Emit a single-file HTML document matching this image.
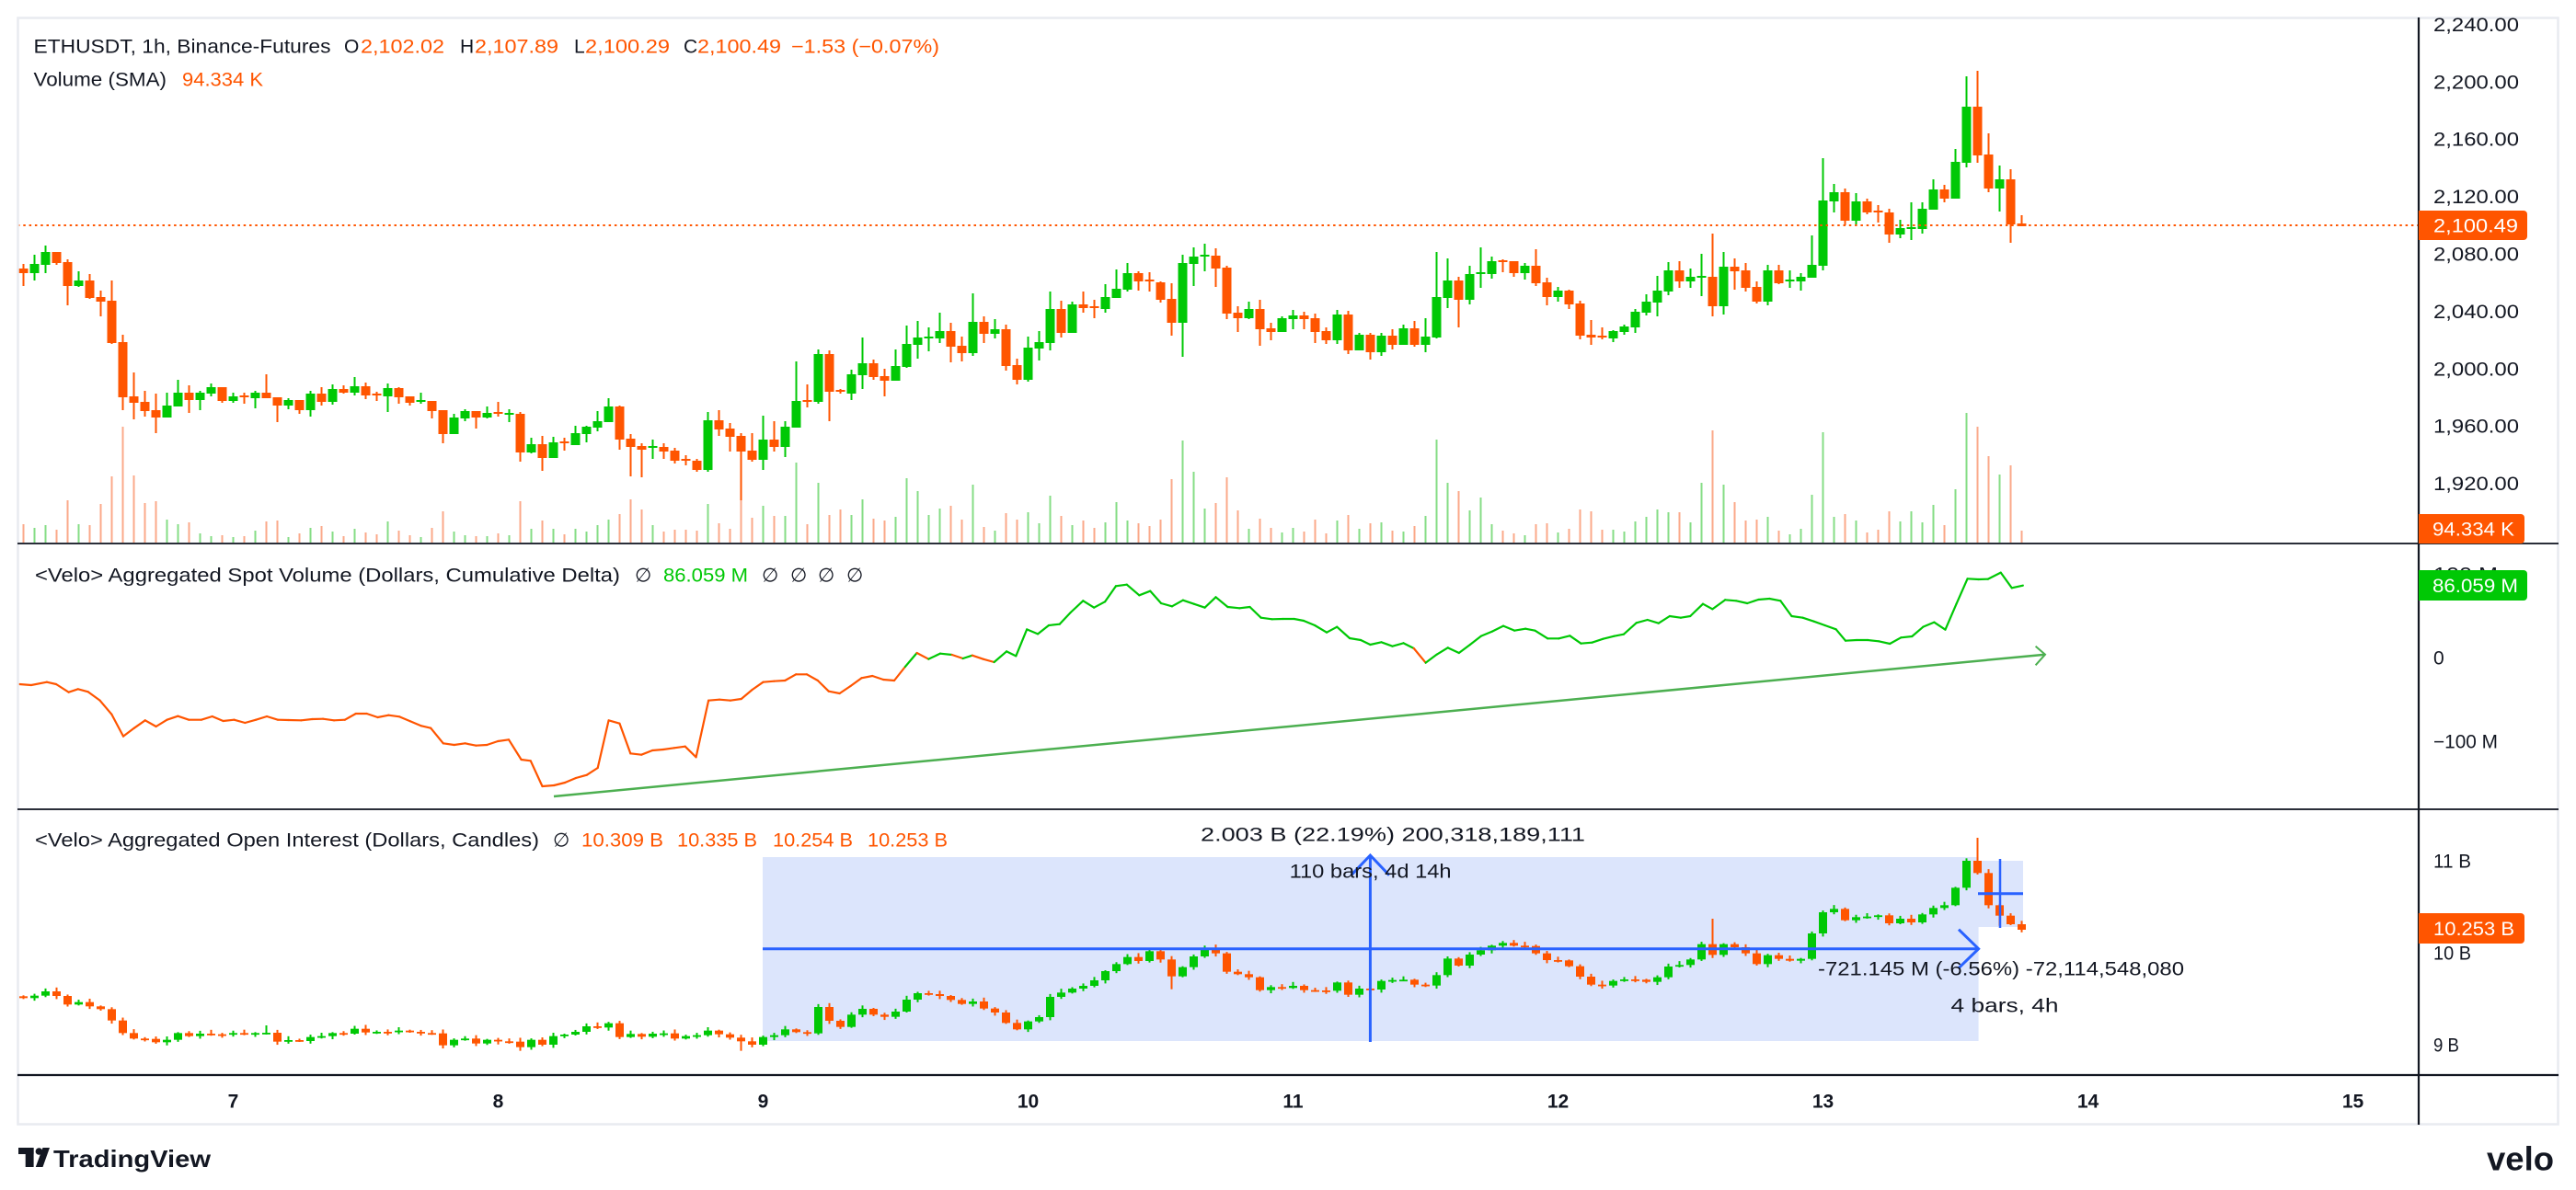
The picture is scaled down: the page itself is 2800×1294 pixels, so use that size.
<!DOCTYPE html>
<html>
<head>
<meta charset="utf-8">
<style>
html,body{margin:0;padding:0;background:#fff;width:2800px;height:1294px;overflow:hidden}
svg{display:block}
text{font-family:"Liberation Sans",sans-serif;fill:#131722}
.ax{font-size:21px}
.lg{font-size:21px}
.or{fill:#ff5500}
.gr{fill:#00c805}
.wt{fill:#ffffff}
.day{font-size:21px;font-weight:bold;text-anchor:middle}
</style>
</head>
<body>
<svg id="c" width="2800" height="1294" viewBox="0 0 2800 1294" xmlns="http://www.w3.org/2000/svg">
<rect x="0" y="0" width="2800" height="1294" fill="#ffffff"/>

<!-- measurement fills (pane 3) -->
<rect x="829" y="932" width="1321.6" height="200" fill="#dce5fc"/>
<rect x="2150" y="936" width="49" height="72" fill="#dce5fc"/>

<g id="ser"></g>

<!-- last price dotted line -->
<line x1="19" y1="245" x2="2629" y2="245" stroke="#ff5500" stroke-width="2" stroke-dasharray="2.5 3.8"/>

<!-- trend line pane 2 -->
<line x1="602" y1="866" x2="2223" y2="711.7" stroke="#4caf50" stroke-width="2.5"/>
<polyline points="2212.6,702.7 2223,711.7 2212.6,723.3" fill="none" stroke="#4caf50" stroke-width="2"/>

<!-- measurement lines -->
<line x1="829" y1="1031.7" x2="2150" y2="1031.7" stroke="#2962ff" stroke-width="3"/>
<polyline points="2129,1010.7 2150.6,1031.7 2129,1052.7" fill="none" stroke="#2962ff" stroke-width="3"/>
<line x1="1489.4" y1="931" x2="1489.4" y2="1133" stroke="#2962ff" stroke-width="3"/>
<polyline points="1468.7,951.7 1489.4,930 1510,951.7" fill="none" stroke="#2962ff" stroke-width="3"/>
<line x1="2174" y1="934" x2="2174" y2="1009" stroke="#2962ff" stroke-width="2.5"/>
<line x1="2150" y1="971.7" x2="2199" y2="971.7" stroke="#2962ff" stroke-width="3"/>

<text class="lg" x="1305" y="914.5" textLength="418" lengthAdjust="spacingAndGlyphs">2.003 B (22.19%) 200,318,189,111</text>
<text class="lg" x="1401.6" y="954.5" textLength="176" lengthAdjust="spacingAndGlyphs">110 bars, 4d 14h</text>
<text class="lg" x="1976" y="1060.5" textLength="398" lengthAdjust="spacingAndGlyphs">-721.145 M (-6.56%) -72,114,548,080</text>
<text class="lg" x="2120.5" y="1100.5" textLength="117" lengthAdjust="spacingAndGlyphs">4 bars, 4h</text>

<!-- frame & separators -->
<rect x="19.5" y="19.5" width="2761" height="1203" fill="none" stroke="#e9ebf0" stroke-width="2.5"/>
<line x1="19" y1="591" x2="2781" y2="591" stroke="#2a2e39" stroke-width="2"/>
<line x1="19" y1="880" x2="2781" y2="880" stroke="#2a2e39" stroke-width="2"/>
<line x1="19" y1="1169" x2="2781" y2="1169" stroke="#131722" stroke-width="2.2"/>
<line x1="2629" y1="19" x2="2629" y2="1223" stroke="#131722" stroke-width="2.2"/>

<!-- legends -->
<text class="lg" x="36.5" y="57.5" textLength="323" lengthAdjust="spacingAndGlyphs">ETHUSDT, 1h, Binance-Futures</text>
<text class="lg" x="374" y="57.5">O</text>
<text class="lg or" x="392" y="57.5" textLength="91" lengthAdjust="spacingAndGlyphs">2,102.02</text>
<text class="lg" x="500" y="57.5">H</text>
<text class="lg or" x="516" y="57.5" textLength="91" lengthAdjust="spacingAndGlyphs">2,107.89</text>
<text class="lg" x="624" y="57.5">L</text>
<text class="lg or" x="636" y="57.5" textLength="92" lengthAdjust="spacingAndGlyphs">2,100.29</text>
<text class="lg" x="743" y="57.5">C</text>
<text class="lg or" x="758" y="57.5" textLength="91" lengthAdjust="spacingAndGlyphs">2,100.49</text>
<text class="lg or" x="860" y="57.5" textLength="161" lengthAdjust="spacingAndGlyphs">−1.53 (−0.07%)</text>
<text class="lg" x="36.5" y="93.5" textLength="144.5" lengthAdjust="spacingAndGlyphs">Volume (SMA)</text>
<text class="lg or" x="198" y="93.5" textLength="88" lengthAdjust="spacingAndGlyphs">94.334 K</text>

<text class="lg" x="38" y="632.5" textLength="636" lengthAdjust="spacingAndGlyphs">&lt;Velo&gt; Aggregated Spot Volume (Dollars, Cumulative Delta)</text>
<text class="lg" x="690" y="632.5">∅</text>
<text class="lg gr" x="721" y="632.5" textLength="92" lengthAdjust="spacingAndGlyphs">86.059 M</text>
<text class="lg" x="828" y="632.5">∅</text>
<text class="lg" x="859" y="632.5">∅</text>
<text class="lg" x="889" y="632.5">∅</text>
<text class="lg" x="920" y="632.5">∅</text>

<text class="lg" x="38" y="920.5" textLength="548" lengthAdjust="spacingAndGlyphs">&lt;Velo&gt; Aggregated Open Interest (Dollars, Candles)</text>
<text class="lg" x="601" y="920.5">∅</text>
<text class="lg or" x="632" y="920.5" textLength="89" lengthAdjust="spacingAndGlyphs">10.309 B</text>
<text class="lg or" x="736" y="920.5" textLength="87" lengthAdjust="spacingAndGlyphs">10.335 B</text>
<text class="lg or" x="840" y="920.5" textLength="87" lengthAdjust="spacingAndGlyphs">10.254 B</text>
<text class="lg or" x="943" y="920.5" textLength="87" lengthAdjust="spacingAndGlyphs">10.253 B</text>

<!-- price axis -->
<text class="ax" x="2645" y="34" textLength="93" lengthAdjust="spacingAndGlyphs">2,240.00</text>
<text class="ax" x="2645" y="96.4" textLength="93" lengthAdjust="spacingAndGlyphs">2,200.00</text>
<text class="ax" x="2645" y="158.7" textLength="93" lengthAdjust="spacingAndGlyphs">2,160.00</text>
<text class="ax" x="2645" y="221.1" textLength="93" lengthAdjust="spacingAndGlyphs">2,120.00</text>
<text class="ax" x="2645" y="283.5" textLength="93" lengthAdjust="spacingAndGlyphs">2,080.00</text>
<text class="ax" x="2645" y="345.9" textLength="93" lengthAdjust="spacingAndGlyphs">2,040.00</text>
<text class="ax" x="2645" y="408.3" textLength="93" lengthAdjust="spacingAndGlyphs">2,000.00</text>
<text class="ax" x="2645" y="470.6" textLength="93" lengthAdjust="spacingAndGlyphs">1,960.00</text>
<text class="ax" x="2645" y="533" textLength="93" lengthAdjust="spacingAndGlyphs">1,920.00</text>

<path d="M2629,229 H2743 a4,4 0 0 1 4,4 V257 a4,4 0 0 1 -4,4 H2629 Z" fill="#ff5500"/>
<text class="ax wt" x="2645" y="252.5" textLength="92" lengthAdjust="spacingAndGlyphs">2,100.49</text>
<path d="M2629,559 H2740 a4,4 0 0 1 4,4 V587 a4,4 0 0 1 -4,4 H2629 Z" fill="#ff5500"/>
<text class="ax wt" x="2644" y="582.5" textLength="89" lengthAdjust="spacingAndGlyphs">94.334 K</text>

<!-- pane 2 axis -->
<text class="ax" x="2645" y="631.5" textLength="70" lengthAdjust="spacingAndGlyphs">100 M</text>
<path d="M2629,620 H2743 a4,4 0 0 1 4,4 V649 a4,4 0 0 1 -4,4 H2629 Z" fill="#00c805"/>
<text class="ax wt" x="2644" y="644" textLength="93" lengthAdjust="spacingAndGlyphs">86.059 M</text>
<text class="ax" x="2645" y="722.5">0</text>
<text class="ax" x="2645" y="813.5" textLength="70" lengthAdjust="spacingAndGlyphs">−100 M</text>

<!-- pane 3 axis -->
<text class="ax" x="2645" y="943.5" textLength="41" lengthAdjust="spacingAndGlyphs">11 B</text>
<text class="ax" x="2645" y="1043.5" textLength="41" lengthAdjust="spacingAndGlyphs">10 B</text>
<text class="ax" x="2645" y="1143.5" textLength="28" lengthAdjust="spacingAndGlyphs">9 B</text>
<path d="M2629,993 H2740 a4,4 0 0 1 4,4 V1022 a4,4 0 0 1 -4,4 H2629 Z" fill="#ff5500"/>
<text class="ax wt" x="2645" y="1017" textLength="88" lengthAdjust="spacingAndGlyphs">10.253 B</text>

<!-- time axis -->
<text class="day" x="253.5" y="1204.5">7</text>
<text class="day" x="541.5" y="1204.5">8</text>
<text class="day" x="829.5" y="1204.5">9</text>
<text class="day" x="1117.5" y="1204.5">10</text>
<text class="day" x="1405.5" y="1204.5">11</text>
<text class="day" x="1693.5" y="1204.5">12</text>
<text class="day" x="1981.5" y="1204.5">13</text>
<text class="day" x="2269.5" y="1204.5">14</text>
<text class="day" x="2557.5" y="1204.5">15</text>

<!-- TradingView logo -->
<rect x="20" y="1248" width="16.6" height="7" fill="#131722"/>
<rect x="27.7" y="1248" width="8.9" height="21" fill="#131722"/>
<circle cx="42.4" cy="1252" r="3.8" fill="#131722"/>
<polygon points="46.5,1248 54,1248 46.5,1269 38.8,1269" fill="#131722"/>
<text x="58" y="1269" style="font-size:26px;font-weight:bold" textLength="171" lengthAdjust="spacingAndGlyphs">TradingView</text>
<!-- velo logo -->
<text x="2703" y="1272.5" style="font-size:36px;font-weight:bold" textLength="73" lengthAdjust="spacingAndGlyphs">velo</text>
</svg>

<script>
(function(){
var NS="http://www.w3.org/2000/svg";
var G="#00c805",R="#ff5500",GV="#86dd86",RV="#fba98a";
var s=document.getElementById("ser");
function el(tag,a){var e=document.createElementNS(NS,tag);for(var k in a)e.setAttribute(k,a[k]);s.appendChild(e);return e;}
var P=[[292,297,287,311],[297,287,277,305],[288,274,267,297],[274,286,274,288],[285,311,282,332],[311,305,295,312],[305,324,298,325],[323,328,316,344],[327,373,305,374],[372,432,364,446],
[431,438,405,456],[437,447,425,453],[446,454,428,471],[454,441,427,454],[442,427,413,442],[427,435,419,449],[435,427,425,446],[428,421,417,431],[421,436,421,438],[436,431,427,438],
[430,432,427,439],[433,427,425,444],[427,433,407,433],[432,441,432,459],[441,435,433,445],[435,446,435,450],[446,428,425,453],[428,437,421,441],[437,423,418,440],[423,427,419,428],
[427,420,410,430],[420,430,416,434],[428,430,426,436],[431,422,417,448],[422,432,421,439],[431,438,431,441],[437,435,427,439],[436,447,436,455],[446,472,446,482],[472,454,450,472],
[455,447,445,458],[447,454,447,466],[454,449,442,455],[448,450,437,453],[451,449,445,459],[450,492,448,502],[492,483,476,493],[483,498,474,512],[498,481,475,498],[480,482,476,490],
[484,471,463,484],[472,464,463,481],[465,458,447,469],[459,442,433,459],[442,478,441,489],[477,486,472,518],[485,489,482,519],[487,485,478,499],[486,491,482,499],[490,501,487,504],
[499,501,495,506],[501,511,499,513],[511,457,448,513],[457,467,446,474],[466,475,460,491],[474,491,471,544],[490,500,471,502],[500,478,452,511],[478,486,458,491],[486,464,458,497],
[465,436,393,465],[435,437,418,443],[437,385,380,439],[385,426,381,458],[424,426,423,428],[428,407,402,435],[408,395,367,423],[395,410,391,413],[409,414,401,431],[414,398,380,414],
[399,374,354,400],[375,367,349,390],[368,366,356,382],[368,360,340,373],[360,377,351,394],[376,384,366,393],[384,350,319,387],[350,363,344,373],[363,358,347,368],[358,398,353,403],
[397,413,390,418],[413,378,366,415],[379,372,360,392],[373,336,317,381],[336,362,327,367],[362,331,328,362],[331,335,317,340],[333,335,326,346],[336,323,309,340],[324,314,293,324],
[315,297,286,317],[297,306,295,316],[304,306,296,317],[307,326,306,329],[325,351,308,365],[351,286,277,388],[287,279,269,311],[279,277,265,295],[278,292,270,312],[291,341,289,347],
[340,346,333,361],[346,336,328,347],[336,358,326,376],[357,361,351,370],[361,346,344,361],[347,343,337,358],[343,347,339,358],[346,361,341,373],[360,370,356,374],[370,342,337,374],
[342,381,338,385],[381,364,362,381],[364,383,362,391],[383,365,362,387],[365,375,358,380],[375,357,353,375],[357,375,349,377],[375,366,346,383],[367,323,274,368],[324,305,281,335],
[305,326,301,356],[326,298,289,331],[298,296,269,313],[298,284,279,303],[283,285,282,296],[284,297,284,301],[297,289,286,304],[289,308,271,311],[307,323,302,332],[323,316,312,328],
[316,331,315,336],[330,365,327,369],[364,367,348,375],[365,367,356,369],[368,360,359,372],[361,355,353,364],[356,339,336,362],[340,328,320,343],[329,316,300,344],[317,294,285,321],
[294,306,284,313],[306,301,292,313],[302,300,276,322],[301,333,254,344],[333,290,274,342],[290,295,281,315],[294,313,286,317],[312,328,306,330],[328,294,288,332],[294,308,288,309],
[306,304,294,313],[306,301,297,316],[302,288,256,302],[289,218,172,294],[219,209,200,231],[209,240,205,245],[240,219,210,245],[219,231,216,233],[229,231,223,242],[231,255,227,264],
[255,248,239,259],[249,247,220,261],[249,227,220,254],[228,206,195,228],[206,216,201,220],[216,176,162,216],[177,116,83,182],[116,169,77,177],[168,205,145,209],[205,195,180,230],
[195,244,184,264],[243,246,234,246]];
var V=[570,574,571,576,544,570,571,548,518,464,517,547,545,565,570,568,580,583,582,584,
583,577,567,566,584,580,574,572,578,583,575,579,581,567,577,582,584,574,556,578,
582,583,583,580,582,545,575,566,575,581,575,578,571,565,559,543,554,571,578,576,
576,577,548,569,575,544,563,550,561,561,503,570,525,560,554,560,543,564,566,562,
520,534,560,553,550,565,527,573,577,558,565,557,569,539,561,571,566,574,568,546,
566,569,572,565,521,479,513,553,547,519,555,575,564,574,579,574,578,565,580,566,
560,575,569,568,577,578,572,561,478,525,534,555,541,570,577,580,582,570,569,579,
575,554,556,576,576,578,567,562,554,557,557,568,525,468,527,546,566,565,562,577,
581,575,538,470,562,559,566,579,576,556,567,556,568,549,571,532,449,464,496,516,506,577];
var i,x,o,c,h,l,col,t,b;
// volume
for(i=0;i<P.length;i++){x=25.5+12*i;var up=P[i][1]<=P[i][0];
 el("rect",{x:x-1,y:V[i],width:2,height:590-V[i],fill:up?GV:RV});}
// price candles
for(i=0;i<P.length;i++){x=25.5+12*i;o=P[i][0];c=P[i][1];h=P[i][2];l=P[i][3];
 col=(c<=o)?G:R;t=Math.min(o,c);b=Math.max(o,c);
 h=Math.min(h,t);l=Math.max(l,b);
 el("rect",{x:x-1,y:h,width:2,height:Math.max(l-h,1),fill:col});
 el("rect",{x:x-5,y:t,width:10,height:Math.max(b-t,2),fill:col});}
// OI candles
var OC=[616,608,594,609,637,629,643,652,689,730,748,749,760,752,730,740,732,734,735,730,
734,730,729,758,753,756,743,740,730,732,716,728,726,727,722,726,730,731,770,752,
748,764,752,757,758,776,752,768,740,735,726,708,712,698,743,733,742,732,731,748,
740,737,722,734,745,757,768,743,737,718,727,731,645,690,710,670,651,670,677,660,
621,600,603,609,622,635,627,650,663,697,718,692,678,612,598,585,576,558,528,505,
482,495,463,490,545,515,480,454,470,530,538,548,590,580,583,576,590,591,592,565,
605,585,588,560,557,556,572,575,541,487,510,474,460,445,436,445,446,470,492,493,
512,546,572,575,560,555,556,563,548,513,508,490,440,475,440,450,470,505,476,488,
494,488,405,336,325,362,352,350,346,372,357,369,343,322,313,256,168,208,313,347,375,393];
var HI={177:93,153:357,22:705,176:160,163:330,129:480};
var LO={104:587,65:788,45:788,89:700,120:612,179:380};
var prev=610;
for(i=0;i<OC.length;i++){x=25.5+12*i;o=prev;c=OC[i];prev=c;
 col=(c<=o)?G:R;
 var tp=Math.min(o,c),bt=Math.max(o,c);
 var w1=3+((i*37)%7)*1.6,w2=3+((i*53)%5)*1.8;
 var hh=(HI[i]!==undefined)?HI[i]:tp-w1;
 var ll=(LO[i]!==undefined)?LO[i]:bt+w2;
 var Y=function(p){return 880+p/3;};
 el("rect",{x:x-1,y:Y(hh),width:2,height:Y(ll)-Y(hh),fill:col});
 el("rect",{x:x-4.5,y:Y(tp),width:9,height:Math.max(Y(bt)-Y(tp),1.8),fill:col});}
// pane 2 line
var L7=[[25,462],[40,465],[60,455],[72,462],[88,488],[100,478],[113,487],[128,515],[143,560],[158,632],[172,605],[186,580],[200,600],[214,578],[228,566],[242,578],[258,578],[272,567],[286,582],[300,578],[314,588],[328,578],[342,567],[356,578],[370,579],[386,580],[400,576],[414,575],[428,580],[442,578],[456,558],[470,558],[484,570],[498,563],[512,568],[526,583],[540,598],[552,605],[568,655],[582,660],[596,655],[610,662],[624,660],[638,648],[652,643],[668,708],[680,712],[695,795],[710,792],[724,783],[738,768],[752,758],[766,735],[780,580],[794,590],[808,688],[822,692],[836,678],[850,675],[864,670],[878,665],[892,700],[908,515],[922,512],[936,515],[950,510],[964,480],[978,455],[992,452],[1006,450],[1020,430],[1034,430],[1048,450],[1062,485],[1076,492],[1090,468],[1104,442],[1118,435],[1132,447],[1146,450],[1160,405],[1175,360],[1190,380],[1205,362],[1220,366],[1234,378],[1246,368],[1260,380],[1274,390],[1290,355],[1302,370],[1316,283],[1330,298],[1344,270],[1358,266],[1372,228],[1388,190],[1402,212],[1416,193],[1430,142],[1444,137],[1460,172],[1474,158],[1488,198],[1502,208],[1516,188],[1530,200],[1544,212]];
var L8=[[25,178],[40,210],[55,214],[68,210],[82,245],[96,250],[110,249],[124,249],[136,255],[150,270],[165,293],[178,275],[194,312],[208,318],[220,333],[234,325],[248,338],[262,328],[275,345],[290,392],[304,365],[318,343],[332,360],[346,333],[360,305],[374,290],[388,272],[402,287],[416,281],[428,287],[444,313],[458,313],[472,304],[486,329],[500,326],[514,314],[528,305],[540,299],[556,262],[570,252],[584,263],[598,240],[612,245],[624,240],[640,200],[652,217],[668,187],[682,190],[696,198],[710,186],[724,183],[738,190],[752,240],[766,245],[780,257],[794,270],[808,283],[820,320],[834,318],[848,318],[862,322],[876,330],[890,310],[904,306],[918,275],[932,260],[946,284],[960,200],[974,118],[988,120],[1000,119],[1016,98],[1030,148],[1044,140]];
var pts=[];
for(i=0;i<L7.length;i++)pts.push([L7[i][0]/1.179,590+L7[i][1]/3]);
for(i=0;i<L8.length;i++)pts.push([1300+L8[i][0]/1.1615,590+L8[i][1]/3]);
for(i=1;i<pts.length;i++){
 var a=pts[i-1],q=pts[i];
 el("line",{x1:a[0],y1:a[1],x2:q[0],y2:q[1],stroke:(q[1]>715)?R:G,"stroke-width":2.2,"stroke-linecap":"round"});}
})();
</script>
</body>
</html>
